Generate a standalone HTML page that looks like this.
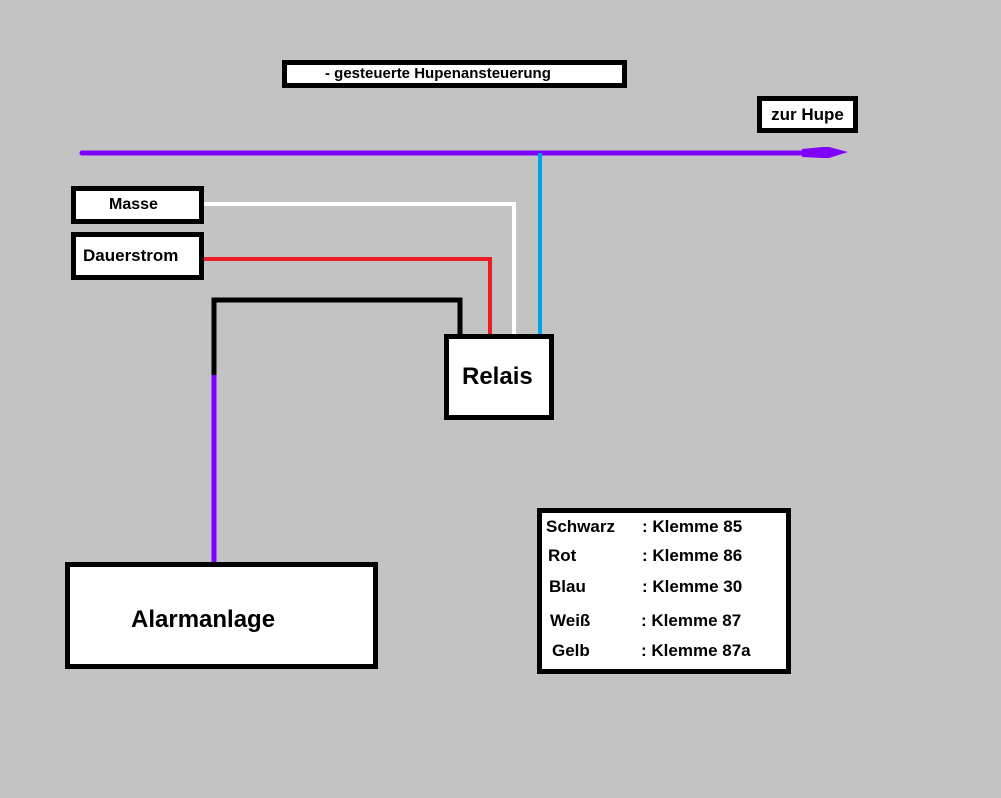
<!DOCTYPE html>
<html><head><style>
body{margin:0;width:1001px;height:798px;background:#c3c3c3;position:relative;overflow:hidden;font-family:"Liberation Sans",Arial,sans-serif;font-weight:bold;color:#000}
.b{position:absolute;box-sizing:border-box;background:#fff;border:5px solid #000;white-space:nowrap}
.t{position:absolute;white-space:nowrap}
svg{position:absolute;left:0;top:0}
</style></head><body>
<svg width="1001" height="798">
<line x1="82" y1="153" x2="830" y2="153" stroke="#8000ff" stroke-width="5" stroke-linecap="round"/>
<polygon points="802,149 823,147 829,147 848,152 829,158 823,158 802,157" fill="#8000ff"/>
<line x1="540" y1="153" x2="540" y2="336" stroke="#00a2e8" stroke-width="4"/>
<polyline points="203,204 514,204 514,336" fill="none" stroke="#fff" stroke-width="4"/>
<polyline points="203,259 490,259 490,336" fill="none" stroke="#ed1c24" stroke-width="4"/>
<polyline points="214,375 214,300 460,300 460,336" fill="none" stroke="#000" stroke-width="5"/>
<line x1="214" y1="375" x2="214" y2="563" stroke="#8000ff" stroke-width="5"/>
</svg>
<div class="b" style="left:282px;top:60px;width:345px;height:28px;font-size:15px;line-height:18px;padding-left:38px">- gesteuerte Hupenansteuerung</div>
<div class="b" style="left:757px;top:96px;width:101px;height:37px;font-size:17px;line-height:27px;text-align:center">zur Hupe</div>
<div class="b" style="left:71px;top:186px;width:133px;height:38px;font-size:16px;line-height:28px;padding-left:33px">Masse</div>
<div class="b" style="left:71px;top:232px;width:133px;height:48px;font-size:17px;line-height:38px;padding-left:7px">Dauerstrom</div>
<div class="b" style="left:444px;top:334px;width:110px;height:86px;font-size:24px;line-height:76px;padding-left:13px">Relais</div>
<div class="b" style="left:65px;top:562px;width:313px;height:107px;font-size:24px;line-height:105px;padding-left:61px">Alarmanlage</div>
<div class="b" style="left:537px;top:508px;width:254px;height:166px"></div>
<div class="t" style="left:546px;top:517px;font-size:17px">Schwarz</div>
<div class="t" style="left:548px;top:546px;font-size:17px">Rot</div>
<div class="t" style="left:549px;top:577px;font-size:17px">Blau</div>
<div class="t" style="left:550px;top:611px;font-size:17px">Weiß</div>
<div class="t" style="left:552px;top:641px;font-size:17px">Gelb</div>
<div class="t" style="left:642px;top:517px;font-size:17px">: Klemme 85</div>
<div class="t" style="left:642px;top:546px;font-size:17px">: Klemme 86</div>
<div class="t" style="left:642px;top:577px;font-size:17px">: Klemme 30</div>
<div class="t" style="left:641px;top:611px;font-size:17px">: Klemme 87</div>
<div class="t" style="left:641px;top:641px;font-size:17px">: Klemme 87a</div>
</body></html>
